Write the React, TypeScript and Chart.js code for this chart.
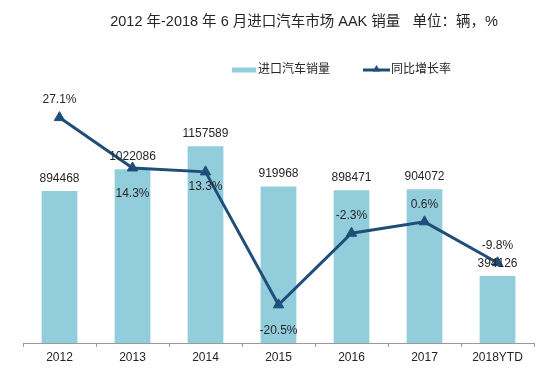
import React, { useEffect, useRef } from "react";
import { Chart, registerables } from "chart.js";

Chart.register(...registerables);

const categories = ["2012", "2013", "2014", "2015", "2016", "2017", "2018YTD"];
const salesValues = [894468, 1022086, 1157589, 919968, 898471, 904072, 394126];
const growthRates = [27.1, 14.3, 13.3, -20.5, -2.3, 0.6, -9.8];
const growthLabelSide = ["above", "below", "belowNear", "below", "above", "above", "above"];

const titleText = "2012 年-2018 年 6 月进口汽车市场 AAK 销量   单位：辆，%";
const salesName = "进口汽车销量";
const growthName = "同比增长率";

const FONT = '"Liberation Sans", Arial, "Noto Sans CJK SC", sans-serif';
const BAR_COLOR = "#92CDDC";
const LINE_COLOR = "#1F4E79";
const TEXT_COLOR = "#262626";

const drawTriangle = (ctx: CanvasRenderingContext2D, x: number, y: number, r: number) => {
  ctx.beginPath();
  ctx.moveTo(x, y - r);
  ctx.lineTo(x + r * 0.95, y + r * 0.6);
  ctx.lineTo(x - r * 0.95, y + r * 0.6);
  ctx.closePath();
  ctx.fill();
};

const decorPlugin = {
  id: "decor",
  afterDraw(chart: any) {
    const ctx: CanvasRenderingContext2D = chart.ctx;
    ctx.save();
    // title
    ctx.fillStyle = TEXT_COLOR;
    ctx.font = `14.5px ${FONT}`;
    ctx.textAlign = "center";
    ctx.textBaseline = "middle";
    ctx.fillText(titleText, 296, 14);
    // legend
    ctx.font = `12px ${FONT}`;
    ctx.textAlign = "left";
    ctx.fillStyle = BAR_COLOR;
    ctx.fillRect(224, 59.5, 24, 5);
    ctx.fillStyle = TEXT_COLOR;
    ctx.fillText(salesName, 250, 62);
    ctx.strokeStyle = LINE_COLOR;
    ctx.lineWidth = 3;
    ctx.beginPath();
    ctx.moveTo(355, 62);
    ctx.lineTo(382, 62);
    ctx.stroke();
    ctx.fillStyle = LINE_COLOR;
    drawTriangle(ctx, 368.5, 61, 4);
    ctx.fillStyle = TEXT_COLOR;
    ctx.fillText(growthName, 383, 62);

    // data labels
    ctx.font = `12px ${FONT}`;
    ctx.textAlign = "center";
    ctx.textBaseline = "middle";
    ctx.fillStyle = TEXT_COLOR;
    const barMeta = chart.getDatasetMeta(0);
    barMeta.data.forEach((el: any, i: number) => {
      ctx.fillText(String(salesValues[i]), el.x, el.y - 12.5);
    });
    const lineMeta = chart.getDatasetMeta(1);
    lineMeta.data.forEach((el: any, i: number) => {
      const side = growthLabelSide[i];
      const dy = side === "above" ? -17.5 : side === "belowNear" ? 15 : 25.5;
      ctx.fillText(growthRates[i].toFixed(1) + "%", el.x, el.y + dy);
    });
    ctx.restore();
  },
};

export default function App() {
  const ref = useRef<HTMLCanvasElement | null>(null);
  useEffect(() => {
    if (!ref.current) return;
    const chart = new Chart(ref.current, {
      type: "bar",
      data: {
        labels: categories,
        datasets: [
          {
            type: "bar",
            label: salesName,
            data: salesValues,
            backgroundColor: BAR_COLOR,
            borderWidth: 0,
            yAxisID: "y",
            categoryPercentage: 1,
            barPercentage: 0.49,
            order: 2,
          },
          {
            type: "line",
            label: growthName,
            data: growthRates,
            borderColor: LINE_COLOR,
            backgroundColor: LINE_COLOR,
            borderWidth: 3,
            pointStyle: "triangle",
            pointRadius: 6,
            pointBackgroundColor: LINE_COLOR,
            pointBorderColor: LINE_COLOR,
            pointBorderWidth: 1,
            tension: 0,
            yAxisID: "y1",
            order: 1,
          },
        ] as any,
      },
      options: {
        animation: false,
        responsive: true,
        maintainAspectRatio: false,
        layout: { padding: { left: 15, right: 8, top: 97, bottom: 0 } },
        plugins: {
          legend: { display: false },
          title: { display: false },
          tooltip: { enabled: false },
        },
        scales: {
          x: {
            offset: true,
            grid: {
              display: true,
              offset: true,
              drawOnChartArea: false,
              drawTicks: true,
              tickLength: 4,
              color: "#9a9a9a",
            },
            border: { display: true, color: "#9a9a9a", width: 1 },
            ticks: {
              color: TEXT_COLOR,
              font: { family: FONT, size: 12 },
              padding: 3,
              maxRotation: 0,
              autoSkip: false,
            },
            afterFit(scale: any) {
              scale.height = 22;
            },
          },
          y: {
            display: false,
            min: 0,
            max: 1400000,
          },
          y1: {
            display: false,
            position: "right",
            min: -30.2,
            max: 30.3,
          },
        },
      },
      plugins: [decorPlugin],
    });
    return () => chart.destroy();
  }, []);
  return (
    <div style={{ position: "relative", width: 534, height: 357 }}>
      <canvas ref={ref} />
    </div>
  );
}
